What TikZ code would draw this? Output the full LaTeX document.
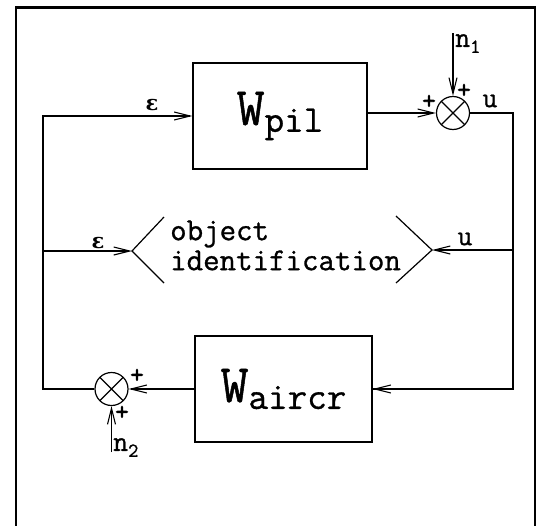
\documentclass[tikz,border=0pt]{standalone}
\usepackage{fontspec}
\usepackage{amsmath}
\usepackage{amssymb}
\usepackage{tikz}
\usetikzlibrary{arrows.meta, positioning}
\newfontfamily\scanmono[FakeBold=0.9]{Latin Modern Mono}
\newfontfamily\scanplus[FakeBold=2.5]{Latin Modern Mono}
\newfontfamily\scangreek{DejaVu Serif}

\newcommand{\blocklabel}[1]{{\scanmono\fontsize{54}{54}\selectfont W}{\scanmono\fontsize{38}{38}\selectfont\raisebox{-7pt}{#1}}}

\tikzset{
  blk/.style={draw, line width=1.2pt, inner sep=0pt},
  sumnode/.style={draw, circle, line width=1.2pt, minimum size=33pt, inner sep=0pt,
    path picture={\draw[line width=1.2pt]
      (path picture bounding box.north west) -- (path picture bounding box.south east)
      (path picture bounding box.north east) -- (path picture bounding box.south west);}},
  wire/.style={line width=1.1pt},
  sig/.style={line width=1.1pt, -{Straight Barb[length=16pt,width=8pt]}},
  lbl/.style={font=\scanmono\fontsize{29}{29}\selectfont, inner sep=0pt},
  epslbl/.style={font=\scangreek\bfseries\fontsize{21}{21}\selectfont, inner sep=0pt},
  pm/.style={font=\scanplus\fontsize{26}{26}\selectfont, inner sep=0pt},
  idtxt/.style={font=\scanmono\fontsize{32}{30}\selectfont, align=left, inner sep=0pt}
}

\begin{document}
\begin{tikzpicture}[x=1pt, y=-1pt]
  \useasboundingbox (0,0) rectangle (538,525);
  % frame (runs off the bottom of the page)
  \draw[line width=2.8pt] (16,530) -- (16,7.5) -- (535,7.5) -- (535,530);

  % blocks and summing points
  \node[blk, minimum width=174pt, minimum height=106pt] (pil) at (280,116) {\blocklabel{pil}};
  \node[blk, minimum width=177pt, minimum height=106pt] (air) at (283.5,389) {\blocklabel{aircr}};
  \node[sumnode] (s1) at (453,113) {};
  \node[sumnode] (s2) at (111.5,389) {};

  % identification block
  \coordinate (idl) at (132,251);
  \coordinate (idr) at (432,250);
  \draw[line width=1.2pt] (164,217) -- (idl) -- (164,283);
  \draw[line width=1.2pt] (396,216) -- (idr) -- (396,283);
  \node[idtxt, anchor=west] (ident) at (170,245.5) {object\\identification};

  % corners of the loops
  \coordinate (epsc) at (43,116);
  \coordinate (epsm) at (43,251);
  \coordinate (uc) at (513,113);
  \coordinate (um) at (513,250);
  \coordinate (n1in) at (453,33);
  \coordinate (n2in) at (111.5,452);

  % signals
  \draw[sig] (s2.west) -| (epsc) -- (epsc -| pil.west);
  \draw[sig] (epsm) -- (idl);
  \draw[sig] (pil.east |- s1.west) -- (s1.west);
  \draw[wire] (s1.east) -- (uc) |- (air.east);
  \draw[sig] (uc |- air.east) -- (air.east);
  \draw[sig] (um) -- (idr);
  \draw[sig] (air.west |- s2.east) -- (s2.east);
  \draw[sig] (n1in) -- (s1.north);
  \draw[sig] (n2in) -- (s2.south);

  % labels
  \node[epslbl] (eps1) at (152,105) {ε};
  \node[epslbl] (eps2) at (98,243) {ε};
  \node[lbl] (u1) at (490,101) {u};
  \node[lbl] (u2) at (465,239) {u};
  \node[lbl, anchor=north west] (n1) at (455,34) {n{\fontsize{20}{20}\selectfont\raisebox{-6pt}{1}}};
  \node[lbl, anchor=north west] (n2) at (113,438) {n{\fontsize{20}{20}\selectfont\raisebox{-6pt}{2}}};
  \node[pm] (p1) at (429,102) {+};
  \node[pm] (p2) at (464,91) {+};
  \node[pm] (p3) at (137,376) {+};
  \node[pm] (p4) at (122,413) {+};
\end{tikzpicture}
\end{document}
